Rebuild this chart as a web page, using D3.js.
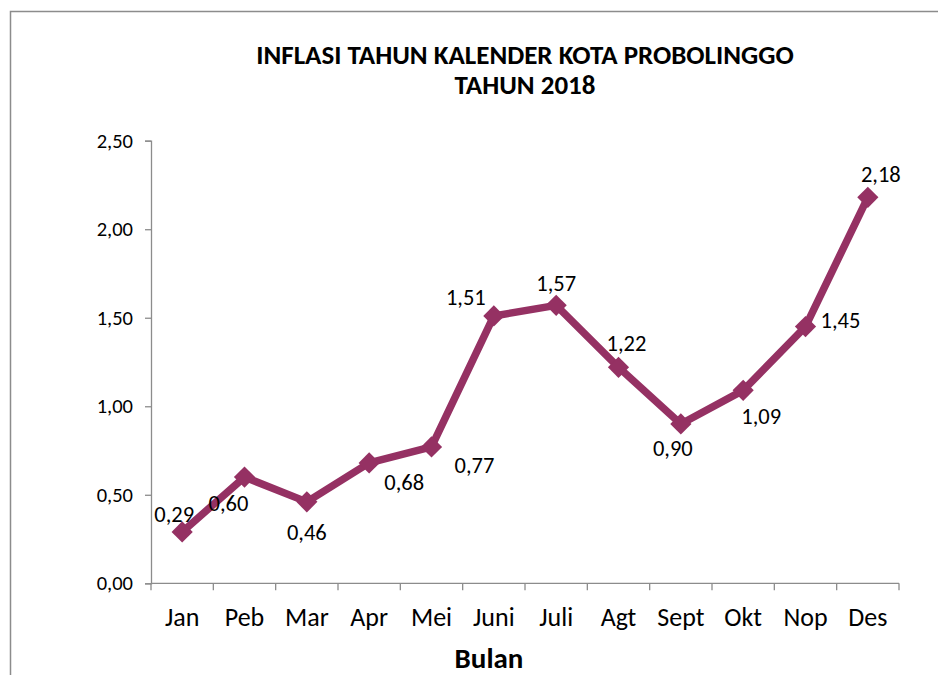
<!DOCTYPE html>
<html><head><meta charset="utf-8">
<script src="https://cdn.jsdelivr.net/npm/d3@7"></script>
<style>body{margin:0;background:#fff}svg{display:block}</style>
</head><body>
<svg id="c" width="938" height="675"></svg>
<script>
const months = ["Jan","Peb","Mar","Apr","Mei","Juni","Juli","Agt","Sept","Okt","Nop","Des"];
const inflation = [0.29,0.60,0.46,0.68,0.77,1.51,1.57,1.22,0.90,1.09,1.45,2.18];
const yTicks = [0,0.5,1.0,1.5,2.0,2.5];
const labelOffsets = [[-8,-17],[-16,26],[0,31],[35,20],[43,19],[-28,-18],[0,-22],[8,-24],[-8,25],[18,26],[35,-6],[13,-23]];
const titleLines = ["INFLASI TAHUN KALENDER KOTA PROBOLINGGO","TAHUN 2018"];
const xTitle = "Bulan";

const font = "Carlito, Lato, 'Liberation Sans', sans-serif";
const svg = d3.select("#c");
svg.append("rect").attr("x",10.5).attr("y",11.5).attr("width",1000).attr("height",1000)
  .attr("fill","none").attr("stroke","#8c8c8c").attr("stroke-width",1.5);

const L=151, R=899, T=140.7, B=583.3;
const x = d3.scaleBand().domain(months).range([L,R]);
const y = d3.scaleLinear().domain([0,2.5]).range([B,T]);
const fmt = v => d3.format(".2f")(v).replace(".",",");

const gy = svg.append("g").attr("transform",`translate(${L},0)`)
  .call(d3.axisLeft(y).tickValues(yTicks).tickFormat(fmt).tickSize(6).tickPadding(12));
const gx = svg.append("g").attr("transform",`translate(0,${B})`)
  .call(d3.axisBottom(x).tickSize(0).tickPadding(0));
gx.selectAll(".tick text").attr("dy",null).attr("y",43);
// x tick marks at band boundaries
gx.selectAll(".bt").data(months.concat(["_end"])).enter().append("line")
  .attr("x1",(d,i)=>L+i*x.step()).attr("x2",(d,i)=>L+i*x.step())
  .attr("y1",0).attr("y2",7).attr("stroke","#8c8c8c").attr("stroke-width",1.3);
[gx,gy].forEach(g=>{
  g.selectAll(".domain").attr("stroke","#8c8c8c").attr("stroke-width",1.3);
  g.selectAll(".tick line").attr("stroke","#8c8c8c").attr("stroke-width",1.3);
  g.selectAll("text").attr("font-family",font).attr("fill","#000");
});
gy.selectAll("text").attr("font-size",20.5);
gx.selectAll("text").attr("font-size",26);
gx.select(".domain").attr("d",`M${L},0H${R}`);

const cx = d => x(d)+x.bandwidth()/2;
const line = d3.line().x((d,i)=>cx(months[i])).y(d=>y(d));
const color = "#953163";
svg.append("path").datum(inflation).attr("d",line).attr("fill","none")
  .attr("stroke",color).attr("stroke-width",7.5).attr("stroke-linejoin","round");
svg.selectAll(".m").data(inflation).enter().append("rect")
  .attr("width",15).attr("height",15)
  .attr("transform",(d,i)=>`translate(${cx(months[i])},${y(d)}) rotate(45) translate(-7.5,-7.5)`)
  .attr("fill",color);
svg.selectAll(".lbl").data(inflation).enter().append("text")
  .attr("x",(d,i)=>cx(months[i])+labelOffsets[i][0])
  .attr("y",(d,i)=>y(d)+labelOffsets[i][1])
  .attr("text-anchor","middle").attr("dominant-baseline","central")
  .attr("font-family",font).attr("font-size",22.5).text(fmt);

svg.selectAll(".title").data(titleLines).enter().append("text")
  .attr("x",525).attr("y",(d,i)=>64+i*30).attr("text-anchor","middle")
  .attr("font-family",font).attr("font-weight","bold").attr("font-size",27).text(d=>d);
svg.append("text").attr("x",489).attr("y",668).attr("text-anchor","middle")
  .attr("font-family",font).attr("font-weight","bold").attr("font-size",29).text(xTitle);
</script>
</body></html>
